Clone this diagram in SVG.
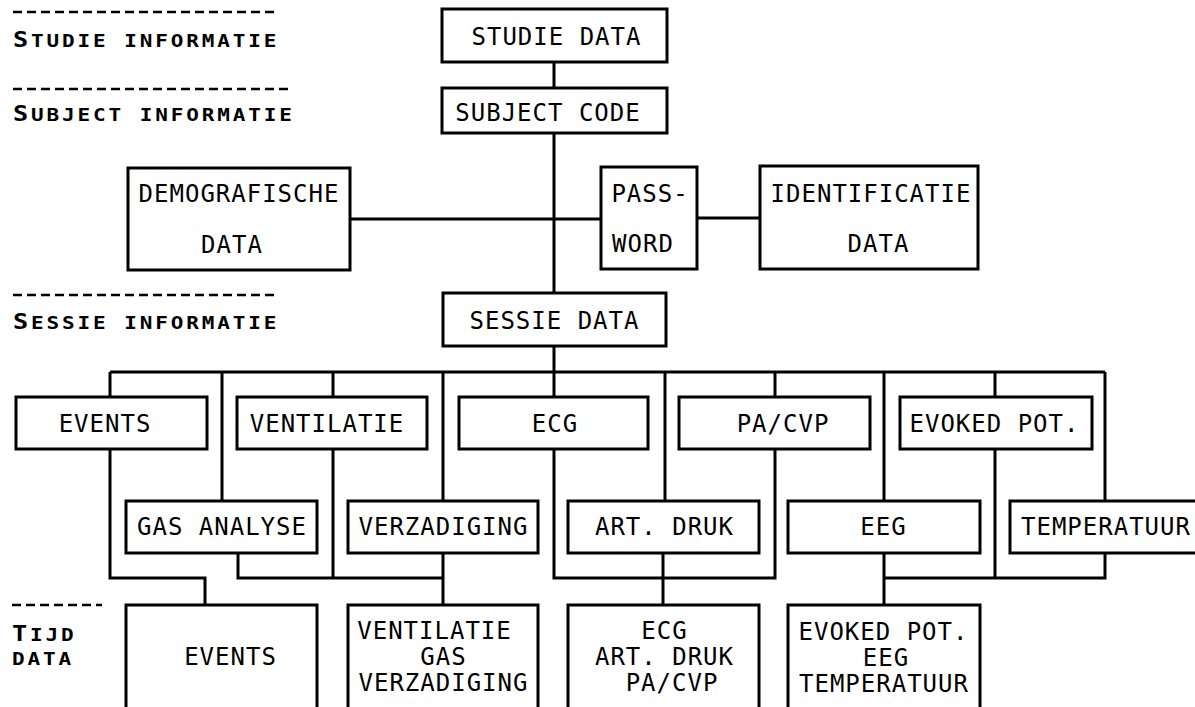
<svg xmlns="http://www.w3.org/2000/svg" width="1195" height="707" viewBox="0 0 1195 707">
<style>
.box{fill:#fff;stroke:#000;stroke-width:3}
.c{fill:none;stroke:#000;stroke-width:3}
.d{fill:none;stroke:#000;stroke-width:2.5;stroke-dasharray:9 5}
.t{font-family:"DejaVu Sans Mono",monospace;font-size:24px;letter-spacing:1px;fill:#000;text-anchor:middle}
.l{font-family:"DejaVu Sans Mono",monospace;font-size:17.5px;font-weight:bold;letter-spacing:2.4px;fill:#000}
.k{font-size:21px}
</style>
<rect width="1195" height="707" fill="#fff"/>
<g id="labels">
<line class="d" x1="13" y1="12" x2="277" y2="12"/>
<text class="l" transform="translate(13,47) scale(1.2,1)"><tspan class="k">S</tspan>TUDIE INFORMATIE</text>
<line class="d" x1="13" y1="89" x2="293" y2="89"/>
<text class="l" transform="translate(13,121) scale(1.2,1)"><tspan class="k">S</tspan>UBJECT INFORMATIE</text>
<line class="d" x1="13" y1="295" x2="277" y2="295"/>
<text class="l" transform="translate(13,329) scale(1.2,1)"><tspan class="k">S</tspan>ESSIE INFORMATIE</text>
<line class="d" x1="12" y1="605" x2="102" y2="605"/>
<text class="l" transform="translate(12,641) scale(1.2,1)"><tspan class="k">T</tspan>IJD</text>
<text class="l" transform="translate(12,665) scale(1.2,1)">DATA</text>
</g>
<g id="connectors">
<path class="c" d="M554 62V88M554 133V293M350 219H601M697 218H760M554 346V397"/>
<path class="c" d="M110 372H1105"/>
<path class="c" d="M110 372V397M222 372V501M333 372V397M443 372V501M665 372V501M775 372V397M884 372V501M995 372V397M1105 372V501"/>
<path class="c" d="M110 449V578H205V605"/>
<path class="c" d="M238 553V578H443M333 449V578M443 553V605"/>
<path class="c" d="M554 449V578H775V449M663 553V605"/>
<path class="c" d="M995 449V578M884 553V605M884 578H1105V553"/>
</g>
<g id="studie-data"><rect class="box" x="442" y="9" width="225" height="53"/><text class="t" x="556.5" y="45">STUDIE DATA</text></g>
<g id="subject-code"><rect class="box" x="442" y="88" width="225" height="45"/><text class="t" x="548" y="121">SUBJECT CODE</text></g>
<g id="demografische"><rect class="box" x="128" y="168" width="222" height="102"/><text class="t" x="239" y="202">DEMOGRAFISCHE</text><text class="t" x="232" y="253">DATA</text></g>
<g id="password"><rect class="box" x="601" y="167" width="96" height="102"/><text class="t" x="650" y="202">PASS-</text><text class="t" x="643" y="252">WORD</text></g>
<g id="identificatie"><rect class="box" x="760" y="166" width="218" height="103"/><text class="t" x="871" y="202">IDENTIFICATIE</text><text class="t" x="878.5" y="252">DATA</text></g>
<g id="sessie-data"><rect class="box" x="443" y="293" width="223" height="53"/><text class="t" x="554.5" y="329">SESSIE DATA</text></g>
<g id="events"><rect class="box" x="16" y="397" width="191" height="52"/><text class="t" x="105" y="432">EVENTS</text></g>
<g id="ventilatie"><rect class="box" x="237" y="397" width="190" height="52"/><text class="t" x="327" y="432">VENTILATIE</text></g>
<g id="ecg"><rect class="box" x="459" y="397" width="189" height="52"/><text class="t" x="555" y="432">ECG</text></g>
<g id="pacvp"><rect class="box" x="679" y="397" width="191" height="52"/><text class="t" x="783" y="432">PA/CVP</text></g>
<g id="evoked"><rect class="box" x="900" y="397" width="192" height="52"/><text class="t" x="994.5" y="432">EVOKED POT.</text></g>
<g id="gas-analyse"><rect class="box" x="126" y="501" width="191" height="52"/><text class="t" x="222" y="535">GAS ANALYSE</text></g>
<g id="verzadiging"><rect class="box" x="348" y="501" width="190" height="52"/><text class="t" x="443.5" y="535">VERZADIGING</text></g>
<g id="art-druk"><rect class="box" x="568" y="501" width="191" height="52"/><text class="t" x="664.5" y="535">ART. DRUK</text></g>
<g id="eeg"><rect class="box" x="788" y="501" width="192" height="52"/><text class="t" x="883.5" y="535">EEG</text></g>
<g id="temperatuur"><rect class="box" x="1010" y="501" width="190" height="52"/><text class="t" x="1106" y="535">TEMPERATUUR</text></g>
<g id="tijd-events"><rect class="box" x="126" y="605" width="191" height="130"/><text class="t" x="230.5" y="665">EVENTS</text></g>
<g id="tijd-vent"><rect class="box" x="348" y="605" width="190" height="130"/><text class="t" x="434.5" y="639">VENTILATIE</text><text class="t" x="443.5" y="665">GAS</text><text class="t" x="443.5" y="691">VERZADIGING</text></g>
<g id="tijd-ecg"><rect class="box" x="568" y="605" width="191" height="130"/><text class="t" x="664.5" y="639">ECG</text><text class="t" x="664.5" y="665">ART. DRUK</text><text class="t" x="672" y="691">PA/CVP</text></g>
<g id="tijd-evoked"><rect class="box" x="788" y="605" width="192" height="130"/><text class="t" x="883.5" y="640">EVOKED POT.</text><text class="t" x="886" y="666">EEG</text><text class="t" x="884" y="692">TEMPERATUUR</text></g>
</svg>
